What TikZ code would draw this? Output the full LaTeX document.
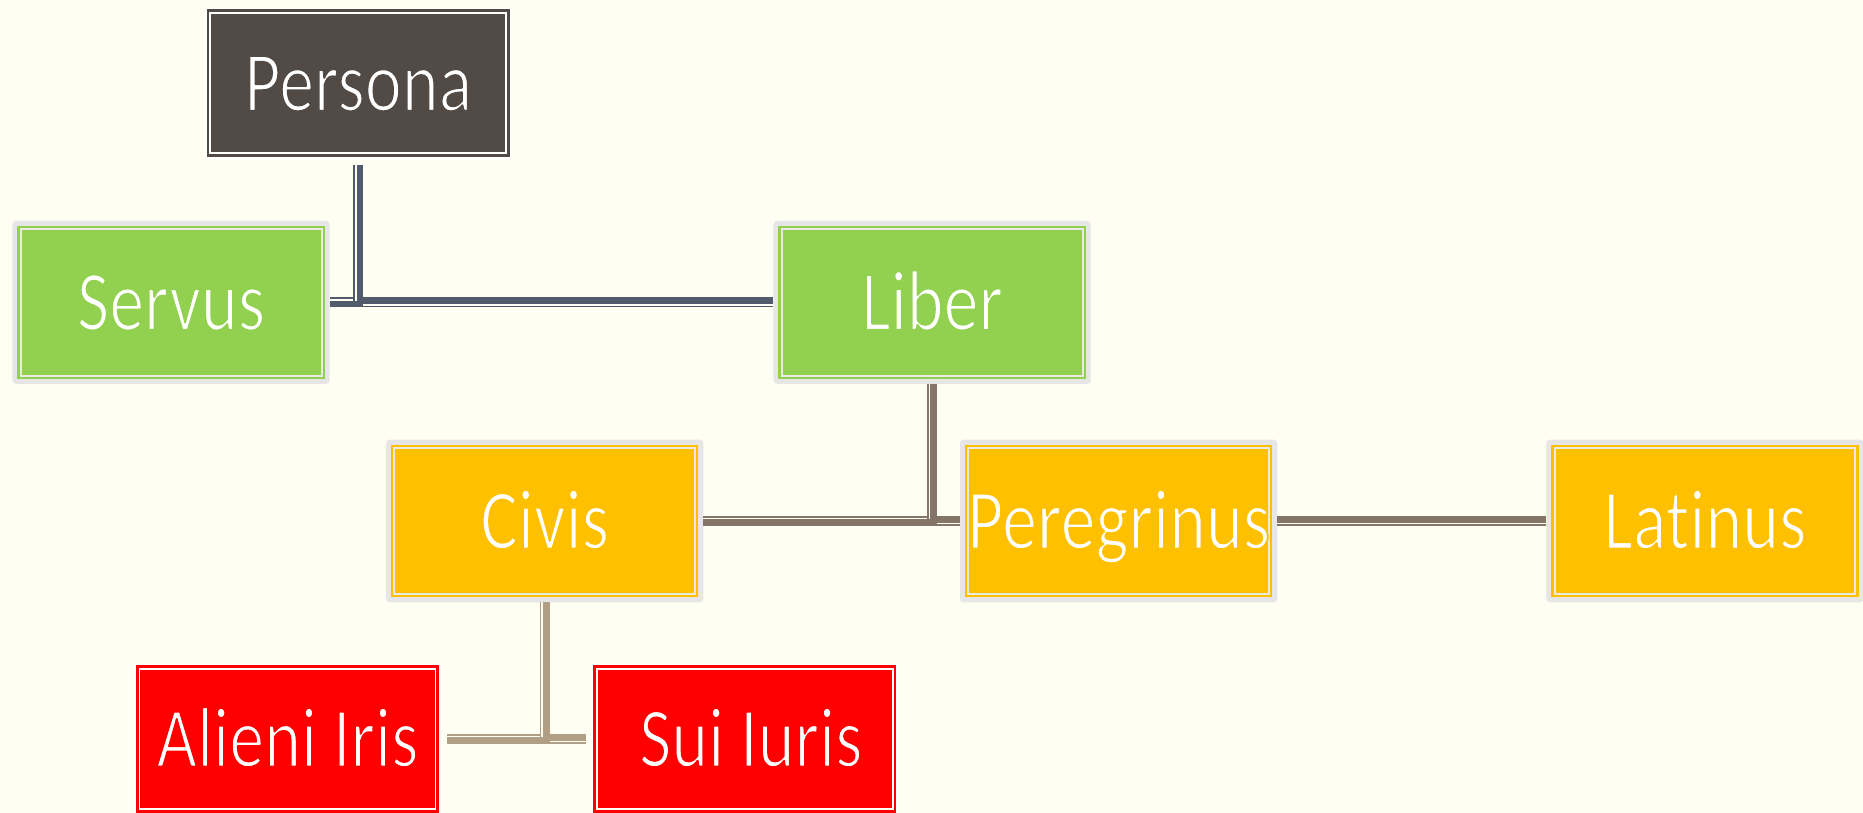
\documentclass[tikz,border=0pt]{standalone}
\usepackage{fontspec}
\setmainfont{Carlito}[FakeStretch=0.82, Ligatures=CommonOff]
\definecolor{bg}{HTML}{FEFEF2}
\definecolor{personafill}{HTML}{524A44}
\definecolor{greenfill}{HTML}{92D050}
\definecolor{orangefill}{HTML}{FFC000}
\definecolor{redfill}{HTML}{FF0000}
\definecolor{rimgray}{HTML}{E6E6E6}
\definecolor{innerline}{HTML}{EAEAE4}
\definecolor{slate}{HTML}{525B6B}
\definecolor{taupe}{HTML}{857568}
\definecolor{tanline}{HTML}{B09F84}
% thin the glyphs a little: stroke their outline in the box colour
\newcommand\lighttext[2]{\special{pdf:literal direct 2 Tr 1.6 w 1 j #1 RG}#2\special{pdf:literal direct 0 Tr}}
\tikzset{
  boxtext/.style={text=white, font=\fontsize{72}{82}\selectfont, text height=46.4pt, text depth=0pt, inner sep=0pt},
  softbox/.style={boxtext, fill=rimgray, rounded corners=3pt, minimum width=267pt, minimum height=137pt, outer sep=0pt,
    path picture={
      \fill[#1, sharp corners] ([shift={(4.2pt,-4.2pt)}]path picture bounding box.north west) rectangle ([shift={(-4.2pt,4.2pt)}]path picture bounding box.south east);
      \draw[innerline, line width=1.7pt, sharp corners] ([shift={(6.9pt,-6.9pt)}]path picture bounding box.north west) rectangle ([shift={(-6.9pt,6.9pt)}]path picture bounding box.south east);
    }},
  sharpbox/.style={boxtext, fill=white, minimum width=258pt, minimum height=127pt, outer sep=5pt,
    path picture={
      \fill[#1] ([shift={(1.5pt,-1.5pt)}]path picture bounding box.north west) rectangle ([shift={(-1.5pt,1.5pt)}]path picture bounding box.south east);
      \draw[white, line width=1.5pt] ([shift={(4.5pt,-4.5pt)}]path picture bounding box.north west) rectangle ([shift={(-4.5pt,4.5pt)}]path picture bounding box.south east);
    }},
  thickpart/.style={draw=#1, line width=5.6pt},
  thinpart/.style={draw=#1, line width=1.4pt},
}
\begin{document}
\begin{tikzpicture}[x=1pt,y=-1pt]
\clip (0,0) rectangle (1568,684);
\fill[bg] (0,0) rectangle (1568,684);

\node[sharpbox=personafill] (persona) at (301.5,70) {\lighttext{0.322 0.290 0.267}{Persona}};
\node[softbox=greenfill] (servus) at (144,254.5) {\lighttext{0.573 0.816 0.314}{Servus}};
\node[softbox=greenfill] (liber) at (784.5,254.5) {\lighttext{0.573 0.816 0.314}{Liber}};
\node[softbox=orangefill] (civis) at (458.5,438.5) {\lighttext{1 0.753 0}{Civis}};
\node[softbox=orangefill] (peregrinus) at (941.5,438.5) {\lighttext{1 0.753 0}{Peregrinus}};
\node[softbox=orangefill] (latinus) at (1435,438.5) {\lighttext{1 0.753 0}{Latinus}};
\node[sharpbox=redfill] (alieni) at (242,622) {\lighttext{1 0 0}{Alieni Iris}};
\node[sharpbox=redfill] (sui) at (627,622) {\hspace*{10pt}\lighttext{1 0 0}{Sui Iuris}};

% Persona -> Servus (down, then west)
\draw[thickpart=slate] ([shift={(1.4,0)}]persona.south) |- ([shift={(0,1.4)}]servus.east);
\draw[thinpart=slate] ([shift={(-3.5,0)}]persona.south) |- ([shift={(0,-3.5)}]servus.east);
% Persona -> Liber (down, then east)
\draw[thickpart=slate] ([shift={(1.4,0)}]persona.south) |- ([shift={(0,-1.4)}]liber.west);
\draw[thinpart=slate] ([shift={(-3.5,0)}]persona.south) |- ([shift={(0,3.5)}]liber.west);

% Liber -> Civis (down, then west)
\draw[thickpart=taupe] ([shift={(1.4,0)}]liber.south) |- ([shift={(0,1.4)}]civis.east);
\draw[thinpart=taupe] ([shift={(-3.5,0)}]liber.south) |- ([shift={(0,-3.5)}]civis.east);
% Liber -> Peregrinus (down, then east)
\draw[thickpart=taupe] ([shift={(1.4,0)}]liber.south) |- ([shift={(0,-1.4)}]peregrinus.west);
\draw[thinpart=taupe] ([shift={(-3.5,0)}]liber.south) |- ([shift={(0,3.5)}]peregrinus.west);
% Peregrinus -> Latinus (east)
\draw[thickpart=taupe] ([shift={(0,-1.4)}]peregrinus.east) -- ([shift={(0,-1.4)}]latinus.west);
\draw[thinpart=taupe] ([shift={(0,3.5)}]peregrinus.east) -- ([shift={(0,3.5)}]latinus.west);

% Civis -> Alieni Iris (down, then west)
\draw[thickpart=tanline] ([shift={(1.4,0)}]civis.south) |- ([shift={(0,1.4)}]alieni.east);
\draw[thinpart=tanline] ([shift={(-3.5,0)}]civis.south) |- ([shift={(0,-3.5)}]alieni.east);
% Civis -> Sui Iuris (down, then east)
\draw[thickpart=tanline] ([shift={(1.4,0)}]civis.south) |- ([shift={(0,-1.4)}]sui.west);
\draw[thinpart=tanline] ([shift={(-3.5,0)}]civis.south) |- ([shift={(0,3.5)}]sui.west);
\end{tikzpicture}
\end{document}
